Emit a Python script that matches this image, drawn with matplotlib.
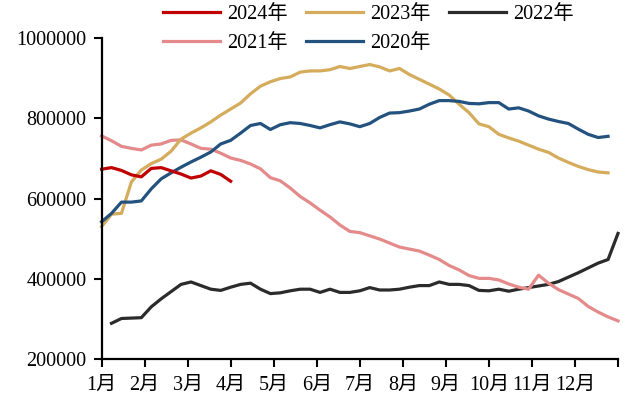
import matplotlib
matplotlib.use('Agg')
from matplotlib import pyplot as plt
import numpy as np

# weekly values, week index 0..52 spread across the year
y2024 = [673000, 677000, 670000, 659000, 654000, 675000, 677000, 669000, 661000, 651000,
         656000, 669000, 660000, 643000]

y2023 = [530000, 561000, 563000, 641000, 671000, 687000, 698000, 718000, 748000, 763000,
         776000, 791000, 808000, 823000, 838000, 861000, 880000, 891000, 899000, 903000,
         915000, 918000, 918000, 921000, 929000, 924000, 929000, 934000, 928000, 918000,
         924000, 909000, 897000, 885000, 873000, 858000, 835000, 814000, 786000, 779000,
         760000, 751000, 743000, 733000, 723000, 715000, 701000, 690000, 680000, 672000,
         666000, 664000]

# 2022 starts one week later
y2022 = [289000, 301000, 302000, 303000, 330000, 350000, 368000, 386000, 392000, 383000,
         374000, 371000, 379000, 386000, 389000, 374000, 363000, 365000, 370000, 374000,
         374000, 366000, 374000, 366000, 366000, 370000, 378000, 372000, 372000, 374000,
         379000, 383000, 383000, 392000, 386000, 386000, 383000, 371000, 370000, 374000,
         369000, 374000, 378000, 382000, 386000, 393000, 404000, 415000, 427000, 439000,
         448000, 513000]

y2021 = [756000, 744000, 730000, 725000, 721000, 733000, 736000, 745000, 746000, 736000,
         725000, 723000, 713000, 701000, 695000, 686000, 674000, 652000, 644000, 626000,
         605000, 589000, 571000, 554000, 534000, 518000, 515000, 507000, 499000, 489000,
         479000, 474000, 469000, 459000, 448000, 433000, 422000, 408000, 401000, 401000,
         397000, 387000, 379000, 374000, 409000, 389000, 373000, 362000, 351000, 331000,
         317000, 305000, 295000]

y2020 = [542000, 563000, 591000, 591000, 594000, 624000, 649000, 664000, 678000, 691000,
         703000, 716000, 736000, 745000, 763000, 782000, 787000, 772000, 784000, 789000,
         787000, 782000, 776000, 784000, 791000, 786000, 779000, 787000, 802000, 813000,
         814000, 818000, 823000, 835000, 844000, 844000, 842000, 837000, 836000, 839000,
         839000, 823000, 826000, 818000, 806000, 798000, 792000, 787000, 773000, 760000,
         752000, 755000]

months = ['1月', '2月', '3月', '4月', '5月', '6月', '7月', '8月', '9月', '10月', '11月', '12月']
yticks = [200000, 400000, 600000, 800000, 1000000]

fonts = ['Liberation Serif', 'Noto Sans CJK SC', 'DejaVu Sans']
plt.rcParams['font.family'] = fonts
plt.rcParams['font.size'] = 14.5

fig = plt.figure(figsize=(6.29, 4.01), dpi=100)
ax = fig.add_axes([0.1615, 0.1047, 0.8210, 0.8005])

lw = 2.3
l22, = ax.plot(np.arange(1, 1 + len(y2022)), y2022, color='#2b2b2b', lw=lw, clip_on=False)
l21, = ax.plot(np.arange(len(y2021)), y2021, color='#e48a8a', lw=lw, clip_on=False)
l23, = ax.plot(np.arange(len(y2023)), y2023, color='#d5ab5c', lw=lw, clip_on=False)
l20, = ax.plot(np.arange(len(y2020)), y2020, color='#24527f', lw=lw, clip_on=False)
l24, = ax.plot(np.arange(len(y2024)), y2024, color='#c00000', lw=lw, clip_on=False)

ax.set_xlim(0, 52)
ax.set_ylim(200000, 1000000)
ax.set_yticks(yticks)
ax.set_yticklabels([str(v) for v in yticks])
ax.set_xticks(np.arange(13) * 52 / 12)
ax.set_xticklabels(months + [''])

for s in ['top', 'right']:
    ax.spines[s].set_visible(False)
for s in ['left', 'bottom']:
    ax.spines[s].set_linewidth(1.6)
ax.tick_params(direction='out', length=6, width=1.5, pad=5)
ax.tick_params(axis='x', pad=6)

fig.legend([l24, l21, l23, l20, l22], ['2024年', '2021年', '2023年', '2020年', '2022年'],
           ncol=3, frameon=False, loc='upper center', bbox_to_anchor=(0.5855, 1.017),
           handlelength=2.8, handletextpad=0.35, columnspacing=0.95, labelspacing=0.47,
           borderaxespad=0.2)

fig.savefig('out.png', dpi=100)
